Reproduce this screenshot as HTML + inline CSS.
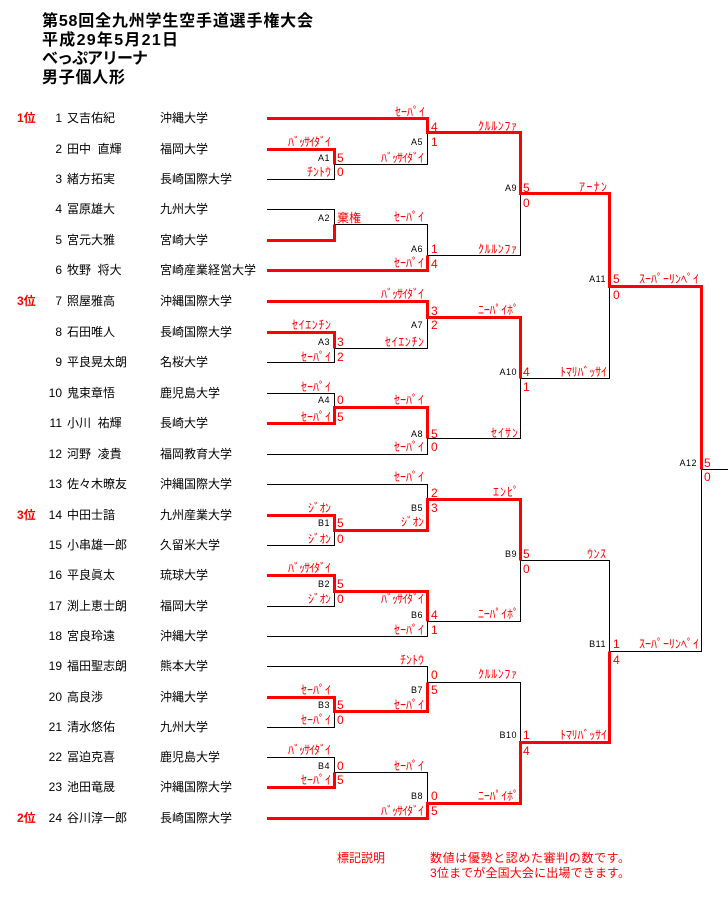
<!DOCTYPE html>
<html><head><meta charset="utf-8">
<style>
html,body{margin:0;padding:0;background:#fff;}
svg{display:block;}
text{font-family:"Liberation Sans","Noto Sans CJK JP",sans-serif;}
.t{font-size:16px;font-weight:bold;fill:#000;}
.n{font-size:12px;fill:#000;}
.k{font-size:12px;fill:#f00;text-anchor:end;}
.s{font-size:12px;fill:#f00;}
.m{font-size:9px;fill:#000;text-anchor:end;letter-spacing:0.5px;}
.r{font-size:12px;font-weight:bold;fill:#f00;}
.e{text-anchor:end;}
.lg{font-size:12px;fill:#f00;}
</style></head><body>
<svg width="728" height="912" viewBox="0 0 728 912" xmlns="http://www.w3.org/2000/svg">
<rect width="728" height="912" fill="#fff"/>
<!-- title -->
<text class="t" x="42" y="26" textLength="271" lengthAdjust="spacing">第58回全九州学生空手道選手権大会</text>
<text class="t" x="42" y="45" textLength="136" lengthAdjust="spacing">平成29年5月21日</text>
<text class="t" x="42" y="63.5" textLength="106" lengthAdjust="spacing">べっぷアリーナ</text>
<text class="t" x="42" y="82.5" textLength="83" lengthAdjust="spacing">男子個人形</text>

<!-- black bracket -->
<path fill="none" stroke="#000" stroke-width="1" shape-rendering="crispEdges" d="
M267 118.5H427 M267 270.5H427 M267 301.5H427 M267 454.5H427 M267 484.5H427 M267 636.5H427 M267 666.5H427 M267 818.5H427
M267 149.5H334 M267 179.5H334 M267 209.5H334 M267 240.5H334 M267 332.5H334 M267 362.5H334 M267 393.5H334 M267 423.5H334
M267 515.5H334 M267 545.5H334 M267 575.5H334 M267 606.5H334 M267 697.5H334 M267 727.5H334 M267 757.5H334 M267 787.5H334
M334.5 149V180 M334 164.5H427
M334.5 209V241 M334 224.5H427
M334.5 332V363 M334 348.5H427
M334.5 393V424 M334 407.5H427
M334.5 515V546 M334 530.5H427
M334.5 575V607 M334 591.5H427
M334.5 697V728 M334 711.5H427
M334.5 757V788 M334 772.5H427
M427.5 118V165 M427 132.5H520
M427.5 224V271 M427 255.5H520
M427.5 301V349 M427 317.5H520
M427.5 407V455 M427 438.5H520
M427.5 484V531 M427 499.5H520
M427.5 591V637 M427 621.5H520
M427.5 666V712 M427 682.5H520
M427.5 772V819 M427 803.5H520
M520.5 132V256 M520 193.5H609
M520.5 317V439 M520 378.5H609
M520.5 499V622 M520 560.5H609
M520.5 682V804 M520 742.5H609
M609.5 193V379 M609 286.5H701
M609.5 560V743 M609 651.5H701
M701.5 286V652 M701 469.5H728
"/>

<!-- red winner paths -->
<g fill="none" stroke="#f00" stroke-width="3" stroke-linejoin="miter">
<path d="M267 118.5H427.5V132.5H520.5V193.5H609.5V286.5H701.5V469.5"/>
<path d="M267 149.5H334.5V164.5"/>
<path d="M267 240.5H334.5V224.5"/>
<path d="M267 270.5H427.5V255.5"/>
<path d="M267 301.5H427.5V317.5H520.5V378.5"/>
<path d="M267 332.5H334.5V348.5"/>
<path d="M267 423.5H334.5V407.5H427.5V438.5"/>
<path d="M267 515.5H334.5V530.5H427.5V499.5H520.5V560.5"/>
<path d="M267 575.5H334.5V591.5H427.5V621.5"/>
<path d="M267 697.5H334.5V711.5H427.5V682.5"/>
<path d="M267 787.5H334.5V772.5"/>
<path d="M267 818.5H427.5V803.5H520.5V742.5H609.5V651.5"/>
</g>

<!-- ranks -->
<text class="r" x="17" y="122">1位</text>
<text class="r" x="17" y="305">3位</text>
<text class="r" x="17" y="519">3位</text>
<text class="r" x="17" y="822">2位</text>

<!-- numbers -->
<g class="n">
<text class="e" x="62" y="122">1</text>
<text class="e" x="62" y="153">2</text>
<text class="e" x="62" y="183">3</text>
<text class="e" x="62" y="213">4</text>
<text class="e" x="62" y="244">5</text>
<text class="e" x="62" y="274">6</text>
<text class="e" x="62" y="305">7</text>
<text class="e" x="62" y="336">8</text>
<text class="e" x="62" y="366">9</text>
<text class="e" x="62" y="397">10</text>
<text class="e" x="62" y="427">11</text>
<text class="e" x="62" y="458">12</text>
<text class="e" x="62" y="488">13</text>
<text class="e" x="62" y="519">14</text>
<text class="e" x="62" y="549">15</text>
<text class="e" x="62" y="579">16</text>
<text class="e" x="62" y="610">17</text>
<text class="e" x="62" y="640">18</text>
<text class="e" x="62" y="670">19</text>
<text class="e" x="62" y="701">20</text>
<text class="e" x="62" y="731">21</text>
<text class="e" x="62" y="761">22</text>
<text class="e" x="62" y="791">23</text>
<text class="e" x="62" y="822">24</text>
</g>
<!-- names -->
<g class="n">
<text x="67" y="122">又吉佑紀</text>
<text x="67" y="153">田中&#160;&#160;直輝</text>
<text x="67" y="183">緒方拓実</text>
<text x="67" y="213">冨原雄大</text>
<text x="67" y="244">宮元大雅</text>
<text x="67" y="274">牧野&#160;&#160;将大</text>
<text x="67" y="305">照屋雅高</text>
<text x="67" y="336">石田唯人</text>
<text x="67" y="366">平良晃太朗</text>
<text x="67" y="397">鬼束章悟</text>
<text x="67" y="427">小川&#160;&#160;祐輝</text>
<text x="67" y="458">河野&#160;&#160;凌貴</text>
<text x="67" y="488">佐々木暸友</text>
<text x="67" y="519">中田士諳</text>
<text x="67" y="549">小串雄一郎</text>
<text x="67" y="579">平良眞太</text>
<text x="67" y="610">渕上恵士朗</text>
<text x="67" y="640">宮良玲遠</text>
<text x="67" y="670">福田聖志朗</text>
<text x="67" y="701">高良渉</text>
<text x="67" y="731">清水悠佑</text>
<text x="67" y="761">冨迫克喜</text>
<text x="67" y="791">池田竜晟</text>
<text x="67" y="822">谷川淳一郎</text>
</g>
<!-- universities -->
<g class="n">
<text x="160" y="122">沖縄大学</text>
<text x="160" y="153">福岡大学</text>
<text x="160" y="183">長崎国際大学</text>
<text x="160" y="213">九州大学</text>
<text x="160" y="244">宮崎大学</text>
<text x="160" y="274">宮崎産業経営大学</text>
<text x="160" y="305">沖縄国際大学</text>
<text x="160" y="336">長崎国際大学</text>
<text x="160" y="366">名桜大学</text>
<text x="160" y="397">鹿児島大学</text>
<text x="160" y="427">長崎大学</text>
<text x="160" y="458">福岡教育大学</text>
<text x="160" y="488">沖縄国際大学</text>
<text x="160" y="519">九州産業大学</text>
<text x="160" y="549">久留米大学</text>
<text x="160" y="579">琉球大学</text>
<text x="160" y="610">福岡大学</text>
<text x="160" y="640">沖縄大学</text>
<text x="160" y="670">熊本大学</text>
<text x="160" y="701">沖縄大学</text>
<text x="160" y="731">九州大学</text>
<text x="160" y="761">鹿児島大学</text>
<text x="160" y="791">沖縄国際大学</text>
<text x="160" y="822">長崎国際大学</text>
</g>

<!-- technique labels -->
<g class="k">
<text x="425" y="116" textLength="30" lengthAdjust="spacing">ｾｰﾊﾟｲ</text>
<text x="331" y="146" textLength="43" lengthAdjust="spacing">ﾊﾞｯｻｲﾀﾞｲ</text>
<text x="331" y="176" textLength="24" lengthAdjust="spacing">ﾁﾝﾄｳ</text>
<text x="424" y="162" textLength="43" lengthAdjust="spacing">ﾊﾞｯｻｲﾀﾞｲ</text>
<text x="517" y="130" textLength="39" lengthAdjust="spacing">ｸﾙﾙﾝﾌｧ</text>
<text x="424" y="221" textLength="30" lengthAdjust="spacing">ｾｰﾊﾟｲ</text>
<text x="517" y="253" textLength="39" lengthAdjust="spacing">ｸﾙﾙﾝﾌｧ</text>
<text x="424" y="267" textLength="30" lengthAdjust="spacing">ｾｰﾊﾟｲ</text>
<text x="607" y="191" textLength="28" lengthAdjust="spacing">ｱｰﾅﾝ</text>
<text x="424" y="298" textLength="43" lengthAdjust="spacing">ﾊﾞｯｻｲﾀﾞｲ</text>
<text x="519" y="314" textLength="41" lengthAdjust="spacing">ﾆｰﾊﾟｲﾎﾟ</text>
<text x="331" y="329" textLength="39" lengthAdjust="spacing">ｾｲｴﾝﾁﾝ</text>
<text x="424" y="346" textLength="39" lengthAdjust="spacing">ｾｲｴﾝﾁﾝ</text>
<text x="331" y="361" textLength="30" lengthAdjust="spacing">ｾｰﾊﾟｲ</text>
<text x="331" y="391" textLength="30" lengthAdjust="spacing">ｾｰﾊﾟｲ</text>
<text x="424" y="404" textLength="30" lengthAdjust="spacing">ｾｰﾊﾟｲ</text>
<text x="331" y="421" textLength="30" lengthAdjust="spacing">ｾｰﾊﾟｲ</text>
<text x="518" y="437" textLength="27" lengthAdjust="spacing">ｾｲｻﾝ</text>
<text x="424" y="451" textLength="30" lengthAdjust="spacing">ｾｰﾊﾟｲ</text>
<text x="699" y="283" textLength="60" lengthAdjust="spacing">ｽｰﾊﾟｰﾘﾝﾍﾟｲ</text>
<text x="607" y="376" textLength="47" lengthAdjust="spacing">ﾄﾏﾘﾊﾞｯｻｲ</text>
<text x="424" y="481" textLength="30" lengthAdjust="spacing">ｾｰﾊﾟｲ</text>
<text x="519" y="496" textLength="26" lengthAdjust="spacing">ｴﾝﾋﾟ</text>
<text x="331" y="512" textLength="23" lengthAdjust="spacing">ｼﾞｵﾝ</text>
<text x="424" y="526" textLength="23" lengthAdjust="spacing">ｼﾞｵﾝ</text>
<text x="331" y="543" textLength="23" lengthAdjust="spacing">ｼﾞｵﾝ</text>
<text x="331" y="572" textLength="43" lengthAdjust="spacing">ﾊﾞｯｻｲﾀﾞｲ</text>
<text x="424" y="603" textLength="43" lengthAdjust="spacing">ﾊﾞｯｻｲﾀﾞｲ</text>
<text x="331" y="603" textLength="23" lengthAdjust="spacing">ｼﾞｵﾝ</text>
<text x="519" y="618" textLength="41" lengthAdjust="spacing">ﾆｰﾊﾟｲﾎﾟ</text>
<text x="424" y="634" textLength="30" lengthAdjust="spacing">ｾｰﾊﾟｲ</text>
<text x="606" y="558" textLength="19" lengthAdjust="spacing">ｳﾝｽ</text>
<text x="699" y="648" textLength="60" lengthAdjust="spacing">ｽｰﾊﾟｰﾘﾝﾍﾟｲ</text>
<text x="424" y="664" textLength="24" lengthAdjust="spacing">ﾁﾝﾄｳ</text>
<text x="517" y="678" textLength="39" lengthAdjust="spacing">ｸﾙﾙﾝﾌｧ</text>
<text x="331" y="694" textLength="30" lengthAdjust="spacing">ｾｰﾊﾟｲ</text>
<text x="424" y="709" textLength="30" lengthAdjust="spacing">ｾｰﾊﾟｲ</text>
<text x="331" y="724" textLength="30" lengthAdjust="spacing">ｾｰﾊﾟｲ</text>
<text x="607" y="739" textLength="47" lengthAdjust="spacing">ﾄﾏﾘﾊﾞｯｻｲ</text>
<text x="331" y="754" textLength="43" lengthAdjust="spacing">ﾊﾞｯｻｲﾀﾞｲ</text>
<text x="424" y="770" textLength="30" lengthAdjust="spacing">ｾｰﾊﾟｲ</text>
<text x="331" y="784" textLength="30" lengthAdjust="spacing">ｾｰﾊﾟｲ</text>
<text x="519" y="800" textLength="41" lengthAdjust="spacing">ﾆｰﾊﾟｲﾎﾟ</text>
<text x="424" y="815" textLength="43" lengthAdjust="spacing">ﾊﾞｯｻｲﾀﾞｲ</text>
</g>

<!-- scores -->
<g class="s">
<text x="337" y="162">5</text><text x="337" y="176">0</text>
<text x="337" y="222">棄権</text>
<text x="337" y="346">3</text><text x="337" y="361">2</text>
<text x="337" y="404">0</text><text x="337" y="421">5</text>
<text x="337" y="527">5</text><text x="337" y="543">0</text>
<text x="337" y="588">5</text><text x="337" y="603">0</text>
<text x="337" y="709">5</text><text x="337" y="724">0</text>
<text x="337" y="770">0</text><text x="337" y="784">5</text>
<text x="431" y="131">4</text><text x="431" y="146">1</text>
<text x="431" y="253">1</text><text x="431" y="268">4</text>
<text x="431" y="315">3</text><text x="431" y="329">2</text>
<text x="431" y="438">5</text><text x="431" y="451">0</text>
<text x="431" y="497">2</text><text x="431" y="512">3</text>
<text x="431" y="619">4</text><text x="431" y="634">1</text>
<text x="431" y="679">0</text><text x="431" y="694">5</text>
<text x="431" y="800">0</text><text x="431" y="815">5</text>
<text x="523" y="192">5</text><text x="523" y="207">0</text>
<text x="523" y="376">4</text><text x="523" y="391">1</text>
<text x="523" y="558">5</text><text x="523" y="573">0</text>
<text x="523" y="739">1</text><text x="523" y="755">4</text>
<text x="613" y="283">5</text><text x="613" y="299">0</text>
<text x="613" y="648">1</text><text x="613" y="664">4</text>
<text x="704" y="467">5</text><text x="704" y="481">0</text>
</g>

<!-- match labels -->
<g class="m">
<text x="330" y="161">A1</text>
<text x="330" y="221">A2</text>
<text x="330" y="345">A3</text>
<text x="330" y="403">A4</text>
<text x="330" y="526">B1</text>
<text x="330" y="587">B2</text>
<text x="330" y="708">B3</text>
<text x="330" y="769">B4</text>
<text x="423" y="145">A5</text>
<text x="423" y="252">A6</text>
<text x="423" y="328">A7</text>
<text x="423" y="437">A8</text>
<text x="423" y="511">B5</text>
<text x="423" y="618">B6</text>
<text x="423" y="693">B7</text>
<text x="423" y="799">B8</text>
<text x="517" y="191">A9</text>
<text x="517" y="375">A10</text>
<text x="517" y="557">B9</text>
<text x="517" y="738">B10</text>
<text x="606" y="282">A11</text>
<text x="606" y="647">B11</text>
<text x="697" y="466">A12</text>
</g>

<!-- legend -->
<text class="lg" x="337" y="862">標記説明</text>
<text class="lg" x="430" y="862" textLength="200" lengthAdjust="spacing">数値は優勢と認めた審判の数です。</text>
<text class="lg" x="430" y="877" textLength="200" lengthAdjust="spacing">3位までが全国大会に出場できます。</text>
</svg>
</body></html>
